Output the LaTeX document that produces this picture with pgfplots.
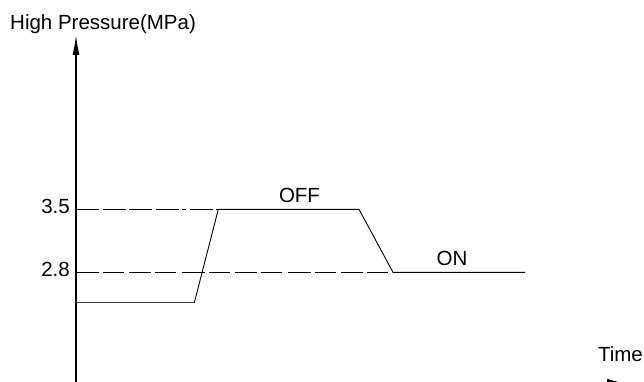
\documentclass[border=0pt]{standalone}
\usepackage{fontspec}
\setmainfont{Liberation Sans}
\usepackage{pgfplots}
\pgfplotsset{compat=1.18}
\usetikzlibrary{arrows.meta}
\tikzset{lbl/.style={font=\fontsize{20.5}{24}\selectfont, inner sep=0pt}}

\begin{document}
\begin{tikzpicture}
\begin{axis}[
    name=ax,
    width=644pt, height=381pt,
    scale only axis,
    hide axis,
    xmin=0, xmax=644,
    ymin=1.5922, ymax=5.8256,
    clip=true,
]
% axes
\addplot[black, line width=1.3pt, -{Latex[length=20pt,width=7pt]}] coordinates {(76,1.50) (76,5.437)};
\addplot[black, line width=1.3pt, -{Latex[length=20pt,width=10pt]}] coordinates {(76,1.562) (627,1.562)};
% threshold lines
\addplot[black, line width=0.9pt, dash pattern=on 23pt off 3.5pt on 23pt off 3.5pt on 23pt off 3.5pt on 23pt off 3.5pt on 4pt off 3.5pt] coordinates {(76,3.5) (218.3,3.5)};
\addplot[black, line width=0.9pt, dash pattern=on 23pt off 4pt on 21pt off 5pt on 22pt off 4pt on 21pt off 6pt] coordinates {(76,2.8) (393,2.8)};
% pressure curve
\addplot[black!75, line width=1.1pt] coordinates {(76,2.462) (194.3,2.462)};
\addplot[black, line width=0.9pt] coordinates {(194.3,2.462) (218.3,3.5) (359,3.5) (393,2.8) (525,2.8)};
% labels
\node[lbl, anchor=base west] at (axis cs:10,5.498) {High Pressure(MPa)};
\node[lbl, anchor=base east] at (axis cs:70,3.4556) {3.5};
\node[lbl, anchor=base east] at (axis cs:70,2.7511) {2.8};
\node[lbl, anchor=base] at (axis cs:299.5,3.5733) {OFF};
\node[lbl, anchor=base] at (axis cs:452,2.8811) {ON};
\node[lbl, anchor=base east] at (axis cs:643,1.8067) {Time};
\end{axis}
\pgfresetboundingbox
\path[use as bounding box] (ax.south west) rectangle (ax.north east);
\end{tikzpicture}
\end{document}
